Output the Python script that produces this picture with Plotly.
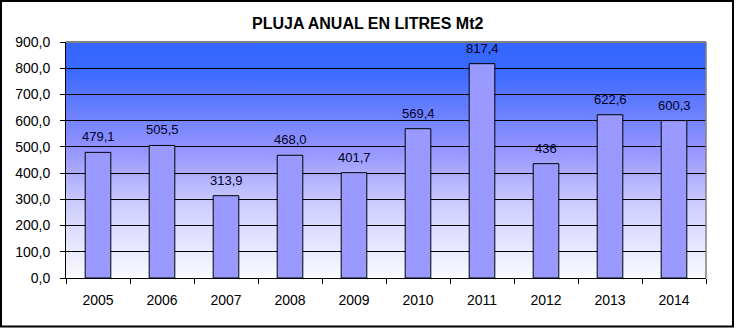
import base64
import plotly.graph_objects as go

# Annual rainfall, litres per square metre
years = ["2005", "2006", "2007", "2008", "2009", "2010", "2011", "2012", "2013", "2014"]
rain = [479.1, 505.5, 313.9, 468.0, 401.7, 569.4, 817.4, 436.0, 622.6, 600.3]
rain_labels = ["479,1", "505,5", "313,9", "468,0", "401,7", "569,4", "817,4", "436", "622,6", "600,3"]
title_text = "PLUJA ANUAL EN LITRES Mt2"

FONT = "Liberation Sans, Arial, sans-serif"
W, H = 736, 329
ML, MR, MT, MB = 66, 30, 42, 51
PW, PH = W - ML - MR, H - MT - MB

# vertical blue-to-white gradient for the plot background
svg = (
    '<svg xmlns="http://www.w3.org/2000/svg" width="100" height="100" preserveAspectRatio="none">'
    '<defs><linearGradient id="g" x1="0" y1="0" x2="0" y2="1">'
    '<stop offset="0" stop-color="#3366FF"/>'
    '<stop offset="0.12" stop-color="#3A69FF"/>'
    '<stop offset="0.45" stop-color="#9393FF"/>'
    '<stop offset="0.7" stop-color="#CFCFFF"/>'
    '<stop offset="1" stop-color="#FAFAFF"/>'
    '</linearGradient></defs>'
    '<rect width="100" height="100" fill="url(#g)"/></svg>'
)
bg_uri = "data:image/svg+xml;base64," + base64.b64encode(svg.encode()).decode()

fig = go.Figure()
fig.add_trace(go.Bar(
    x=years, y=rain,
    marker=dict(color="#9999FF", line=dict(color="#000000", width=1)),
    width=0.4,
    hoverinfo="skip",
))

# value labels above each bar (category axis: position by index)
annotations = [
    dict(x=i, y=v, text=lab, xref="x", yref="y", showarrow=False,
         yanchor="bottom", yshift=6, font=dict(family=FONT, size=13, color="#000020"))
    for i, (v, lab) in enumerate(zip(rain, rain_labels))
]
annotations.append(dict(
    text="<b>" + title_text + "</b>", xref="paper", yref="paper",
    x=(W / 2 - ML) / PW, y=(H - MB - 24) / PH,
    showarrow=False, xanchor="center", yanchor="middle",
    font=dict(family=FONT, size=16, color="#000000"),
))

shapes = [
    # gray top and right edges of the plot area
    dict(type="line", xref="paper", yref="paper", x0=0, x1=1, y0=1, y1=1,
         line=dict(color="#808080", width=2), layer="above"),
    dict(type="line", xref="paper", yref="paper", x0=1, x1=1, y0=0, y1=1,
         line=dict(color="#808080", width=1.5), layer="above"),
    # outer frame of the chart
    dict(type="rect", xref="paper", yref="paper",
         x0=(1 - ML) / PW, x1=(W - 3 - ML) / PW,
         y0=(H - MB - (H - 2.5)) / PH, y1=(H - MB - 1) / PH,
         line=dict(color="#000000", width=2), fillcolor="rgba(0,0,0,0)", layer="above"),
]

fig.update_layout(
    width=W, height=H,
    margin=dict(l=ML, r=MR, t=MT, b=MB, pad=0),
    paper_bgcolor="#FFFFFF",
    plot_bgcolor="rgba(0,0,0,0)",
    separators=",.",
    showlegend=False,
    bargap=0.6,
    images=[dict(source=bg_uri, xref="paper", yref="paper", x=0, y=1,
                 sizex=1, sizey=1, sizing="stretch", xanchor="left", yanchor="top",
                 layer="below")],
    annotations=annotations,
    shapes=shapes,
    xaxis=dict(
        type="category", tickson="boundaries", ticks="outside", ticklen=5,
        tickcolor="#000000", tickwidth=1,
        showline=True, linecolor="#000000", linewidth=1,
        showgrid=False, zeroline=False,
        ticklabelstandoff=9,
        tickfont=dict(family=FONT, size=14, color="#000000"),
        range=[-0.5, 9.5],
    ),
    yaxis=dict(
        range=[0, 900], dtick=100, tickformat=".1f",
        ticks="outside", ticklen=5, tickcolor="#000000", tickwidth=1,
        showline=True, linecolor="#000000", linewidth=1,
        showgrid=True, gridcolor="#000000", gridwidth=1,
        zeroline=False,
        ticklabelstandoff=7,
        tickfont=dict(family=FONT, size=14, color="#000000"),
    ),
)

fig.write_html("out.html")
